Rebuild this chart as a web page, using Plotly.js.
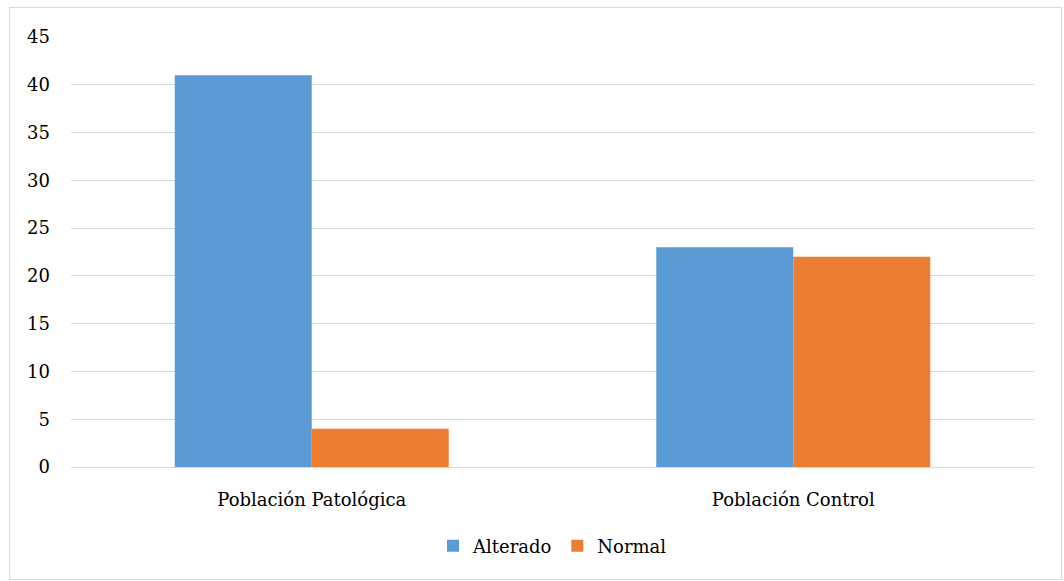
<!DOCTYPE html>
<html>
<head>
<meta charset="utf-8">
<script src="https://cdn.plot.ly/plotly-3.0.1.min.js"></script>
<style>
html,body{margin:0;padding:0;background:#fff;}
#wrap{position:relative;width:1064px;height:581px;}
#frame{position:absolute;left:9px;top:7px;width:1051px;height:571px;border:1px solid #d9d9d9;pointer-events:none;}
#chart{position:absolute;left:0;top:0;width:1064px;height:581px;}
</style>
</head>
<body>
<div id="wrap"><div id="chart"></div><div id="frame"></div></div>
<script>
const categories = ["Población Patológica", "Población Control"];
const alterado = [41, 23];
const normal = [4, 22];
const yTicks = [0, 5, 10, 15, 20, 25, 30, 35, 40, 45];

const font = {family: "DejaVu Serif", size: 18, color: "#000"};

const data = [
  {type: "bar", name: "Alterado", x: categories, y: alterado, marker: {color: "#5b9bd5"}},
  {type: "bar", name: "Normal", x: categories, y: normal, marker: {color: "#ed7d31"}}
];

const layout = {
  width: 1064, height: 581,
  margin: {l: 71, r: 30, t: 37, b: 114},
  paper_bgcolor: "#fff", plot_bgcolor: "#fff",
  font: font,
  barmode: "group",
  bargap: 0.431,
  bargroupgap: 0,
  showlegend: true,
  legend: {orientation: "h", x: 0.5, xanchor: "center", y: -0.184, yanchor: "middle", font: font, itemwidth: 30, traceorder: "normal"},
  xaxis: {showgrid: false, showline: true, linecolor: "#d9d9d9", linewidth: 1, ticks: "", tickfont: font, ticklabelstandoff: 16},
  yaxis: {range: [0, 45], tickvals: yTicks, ticktext: yTicks.map(String), showgrid: true, gridcolor: "#d9d9d9", gridwidth: 1, zeroline: false, showline: false, ticks: "", tickfont: font, ticklabelstandoff: 20}
};

Plotly.newPlot("chart", data, layout, {displayModeBar: false, staticPlot: true});
</script>
</body>
</html>
